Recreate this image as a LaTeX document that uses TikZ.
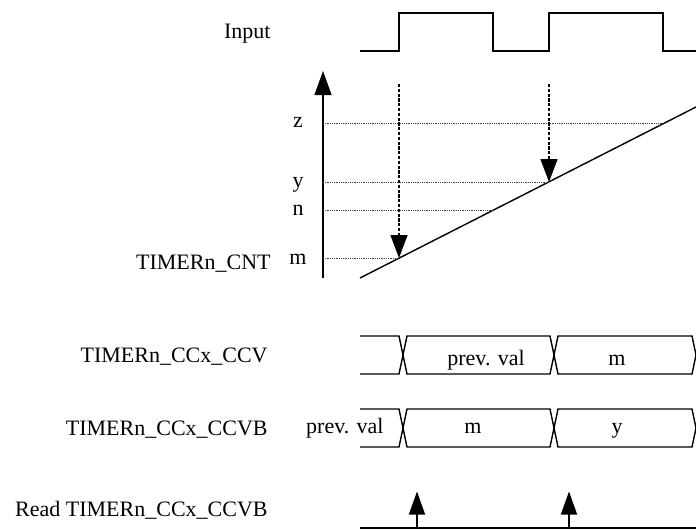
\documentclass[tikz,border=0pt]{standalone}
\usepackage{fontspec}
\setmainfont{Liberation Serif}
\definecolor{dotgray}{HTML}{444444}
\usetikzlibrary{calc, arrows.meta}

\begin{document}
\begin{tikzpicture}[
  x=0.5pt, y=-0.5pt,
  lbl/.style={font=\fontsize{11}{13}\selectfont, inner sep=0pt, anchor=base east},
  val/.style={font=\fontsize{11}{13}\selectfont, inner sep=0pt, anchor=base},
  wave/.style={line width=0.7pt, line join=miter},
  axis/.style={line width=0.7pt, -{Triangle[length=12pt, width=8.5pt]}},
  level/.style={line width=0.5pt, draw=dotgray, dash pattern=on 0.5pt off 0.4pt},
  sample/.style={line width=0.7pt, dash pattern=on 1.6pt off 0.8pt, -{Triangle[length=11.5pt, width=8.5pt]}},
  readarr/.style={line width=0.7pt, -{Triangle[length=11.5pt, width=8pt]}},
]
\useasboundingbox (0,0) rectangle (696,530);

\node[lbl] (lin) at (271,39) {Input};
\draw[wave] (360,51) -- (399,51) -- (399,13) -- (493,13) -- (493,51)
  -- (549,51) -- (549,13) -- (663,13) -- (663,51) -- (696,51);

\coordinate (axb) at (323,278);
\coordinate (axt) at (323,71);
\draw[axis] (axb) -- (axt);

\coordinate (pm) at (399,258);
\coordinate (pn) at (493,210);
\coordinate (py) at (549,182);
\coordinate (pz) at (663,123.5);
\draw[wave] (360,278) -- (696,107);

\draw[level] (axb |- pz) -- (pz);
\draw[level] (axb |- py) -- (py);
\draw[level] (axb |- pn) -- (pn);
\draw[level] (axb |- pm) -- (pm);

\node[val] (lz) at (298,127) {z};
\node[val] (ly) at (298,187) {y};
\node[val] (ln) at (298,215) {n};
\node[val] (lm) at (298,264) {m};
\node[lbl] (lcnt) at (271,269) {TIMERn\_CNT};

\coordinate (sm) at (399,84);
\coordinate (sy) at (549,84);
\draw[sample] (sm) -- (pm);
\draw[sample] (sy) -- (py);

\node[lbl] (lccv) at (268,362) {TIMERn\_CCx\_CCV};
\draw[wave] (360,336) -- (399,336) -- (407,374) -- (550,374) -- (558,336) -- (692,336) -- (696,355);
\draw[wave] (360,374) -- (399,374) -- (407,336) -- (550,336) -- (558,374) -- (692,374) -- (696,355);
\node[val] (vccv1) at (486,365) {prev. val};
\node[val] (vccv2) at (617,365) {m};

\node[lbl] (lccvb) at (268,435) {TIMERn\_CCx\_CCVB};
\draw[wave] (360,409) -- (399,409) -- (407,447) -- (550,447) -- (558,409) -- (692,409) -- (696,428);
\draw[wave] (360,447) -- (399,447) -- (407,409) -- (550,409) -- (558,447) -- (692,447) -- (696,428);
\node[lbl] (vccvb0) at (384,433) {prev. val};
\node[val] (vccvb1) at (473,433) {m};
\node[val] (vccvb2) at (617,433) {y};

\node[lbl] (lread) at (268,516) {Read TIMERn\_CCx\_CCVB};
\draw[wave] (360,528) -- (696,528);
\coordinate (r1) at (417,528);
\coordinate (r1t) at (417,491.5);
\coordinate (r2) at (569,528);
\coordinate (r2t) at (569,491.5);
\draw[readarr] (r1) -- (r1t);
\draw[readarr] (r2) -- (r2t);
\end{tikzpicture}
\end{document}
